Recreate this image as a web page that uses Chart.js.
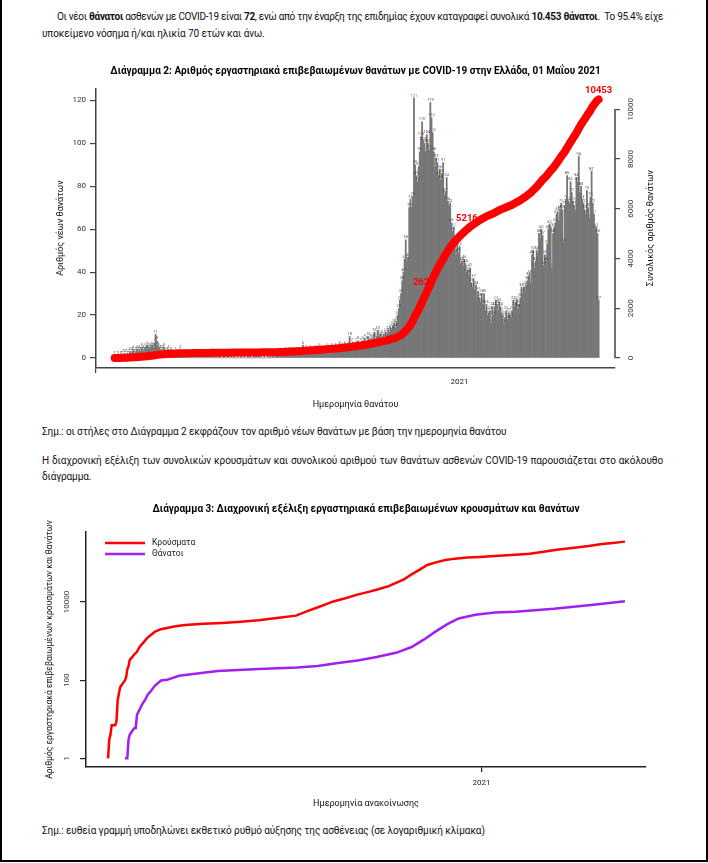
<!DOCTYPE html>
<html>
<head>
<meta charset="utf-8">
<script src="https://cdn.jsdelivr.net/npm/chart.js@4.4.1/dist/chart.umd.min.js"></script>
<style>
  body { margin: 0; background: #fff; width: 708px; height: 863px; overflow: hidden; position: relative;
         font-family: Roboto, "Noto Sans", sans-serif; color: #111; }
  .frame { position: absolute; left: 0; top: -5px; width: 708px; height: 867px; box-sizing: border-box; border: 2px solid #000; }
  .t { position: absolute; font-size: 10px; letter-spacing: -0.1px; line-height: 14px; white-space: nowrap; }
  .j { text-align: justify; text-align-last: justify; }
  .t b { font-weight: 700; }
  canvas { position: absolute; left: 0; }
</style>
</head>
<body>
<div class="frame"></div>

<div class="t j" style="left:57px; top:10px; width:606px;">Οι νέοι <b>θάνατοι</b> ασθενών με COVID-19 είναι <b>72</b>, ενώ από την έναρξη της επιδημίας έχουν καταγραφεί συνολικά <b>10.453 θάνατοι</b>.&nbsp; Το 95.4% είχε</div>
<div class="t" style="left:42px; top:27px;">υποκείμενο νόσημα ή/και ηλικία 70 ετών και άνω.</div>

<canvas id="deathsChart" width="708" height="370" style="top:50px;"></canvas>

<div class="t" style="left:42px; top:425px;">Σημ.: οι στήλες στο Διάγραμμα 2 εκφράζουν τον αριθμό νέων θανάτων με βάση την ημερομηνία θανάτου</div>
<div class="t j" style="left:42px; top:454px; width:621px;">Η διαχρονική εξέλιξη των συνολικών κρουσμάτων και συνολικού αριθμού των θανάτων ασθενών COVID-19 παρουσιάζεται στο ακόλουθο</div>
<div class="t" style="left:42px; top:470px;">διάγραμμα.</div>

<canvas id="logChart" width="708" height="330" style="top:490px;"></canvas>

<div class="t" style="left:42px; top:824px;">Σημ.: ευθεία γραμμή υποδηλώνει εκθετικό ρυθμό αύξησης της ασθένειας (σε λογαριθμική κλίμακα)</div>

<script>
// στοίχιση: οι πλήρεις γραμμές μαζεύονται αν δεν χωράνε και μετά απλώνονται
document.querySelectorAll('.j').forEach(function (el) {
  var target = el.clientWidth;
  el.style.width = 'max-content';
  var natural = el.offsetWidth;
  el.style.width = target + 'px';
  if (natural > target) {
    el.style.letterSpacing = ((target - natural) / el.textContent.length - 0.1 - 0.03) + 'px';
  }
  el.style.whiteSpace = 'normal';
});

var FONT = 'Roboto, "Noto Sans", sans-serif';
Chart.defaults.font.family = FONT;
Chart.defaults.color = '#222';
Chart.defaults.animation = false;

// ---- Διάγραμμα 2 : νέοι θάνατοι ανά ημέρα (ημερομηνία θανάτου) ----
var deathsTitle = 'Διάγραμμα 2: Αριθμός εργαστηριακά επιβεβαιωμένων θανάτων με COVID-19 στην Ελλάδα, 01 Μαΐου 2021';
var firstDeathDay = '2020-03-12';
var dailyDeaths = [
  1,0,1,1,0,1,1,2,1,2,  2,1,2,3,2,3,4,2,3,4,  3,4,3,5,4,3,5,4,6,5,  4,5,6,5,7,11,8,6,5,4,
  3,4,5,3,2,3,4,2,3,2,  2,1,3,2,1,2,4,1,2,1,  1,2,0,1,2,0,1,1,0,1,  0,1,1,0,1,2,0,1,0,1,
  1,0,1,2,0,1,0,1,0,1,  1,0,0,1,1,0,0,1,0,0,  1,0,1,0,0,1,0,0,1,0,  0,1,0,0,1,0,1,0,0,1,
  0,1,0,1,0,1,0,0,1,0,  0,1,0,1,0,2,1,0,1,2,  1,1,2,2,1,2,3,1,2,3,  2,3,2,3,2,2,3,3,2,3,
  2,6,3,2,4,3,2,4,3,2,  3,4,2,4,3,5,3,2,4,3,  4,3,5,4,2,4,5,3,4,5,  4,3,5,6,4,5,4,6,5,4,
  6,10,5,7,6,4,7,6,8,5,  7,6,8,7,9,6,8,10,7,9,  8,9,12,9,10,13,10,11,9,10,  11,9,12,11,13,12,14,13,15,16,
  14,17,20,23,27,30,36,40,46,55,  45,47,70,74,70,75,121,90,85,82,  89,96,103,110,101,100,96,104,100,97,
  119,112,105,96,89,93,91,85,88,83,  86,91,76,77,84,73,71,72,63,59,  61,54,48,55,49,52,44,45,43,46,
  44,40,41,39,42,35,33,37,32,34,  29,31,28,26,30,25,30,22,25,20,  21,22,16,24,20,24,27,25,22,26,
  24,21,20,16,19,22,18,21,20,19,  22,27,24,26,27,23,25,28,33,30,  33,31,34,36,38,39,35,48,50,42,
  45,50,49,58,56,60,57,43,48,45,  53,60,62,61,42,58,61,63,67,68,  64,69,72,69,54,71,74,85,73,72,
  82,77,73,71,69,84,82,94,77,80,  74,72,69,67,78,70,65,75,87,72,  67,60,61,58,27
];
var dailyTicks = [0, 20, 40, 60, 80, 100, 120];
var totalTicks = [0, 2000, 4000, 6000, 8000, 10000];
var yearTickDates = ['2021-01-01'];
var yearTickLabels = ['2021'];
var markerDates = ['2020-12-04', '2021-01-09', '2021-04-30'];
var markerLabels = ['2626', '5216', '10453'];

// ---- Διάγραμμα 3 : σωρευτικά κρούσματα / θάνατοι (ημερομηνία ανακοίνωσης) ----
var logTitle = 'Διάγραμμα 3: Διαχρονική εξέλιξη εργαστηριακά επιβεβαιωμένων κρουσμάτων και θανάτων';
var firstCaseDay = '2020-02-26';
var caseDates = ['2020-02-26','2020-02-27','2020-02-28','2020-02-29','2020-03-03','2020-03-04','2020-03-05','2020-03-06',
  '2020-03-07','2020-03-08','2020-03-10','2020-03-11','2020-03-12','2020-03-13','2020-03-14','2020-03-15','2020-03-17',
  '2020-03-19','2020-03-21','2020-03-23','2020-03-25','2020-03-27','2020-03-29','2020-03-31','2020-04-05','2020-04-10',
  '2020-04-15','2020-04-22','2020-04-30','2020-05-15','2020-05-31','2020-06-15','2020-06-30','2020-07-15','2020-07-31',
  '2020-08-10','2020-08-20','2020-08-31','2020-09-10','2020-09-20','2020-09-30','2020-10-08','2020-10-16','2020-10-22',
  '2020-10-29','2020-11-04','2020-11-11','2020-11-17','2020-11-24','2020-12-02','2020-12-10','2020-12-20','2020-12-31',
  '2021-01-12','2021-01-29','2021-02-10','2021-02-20','2021-03-06','2021-03-19','2021-03-31','2021-04-11','2021-04-20','2021-04-30'];
var caseCounts = [1,3,4,7,7,9,31,45,
  66,73,89,99,117,190,228,331,387,
  464,530,695,821,966,1156,1314,1735,2011,
  2170,2401,2591,2770,2917,3121,3390,3876,4477,
  5942,7684,10317,12452,15400,18400,21400,25500,30800,
  38500,51000,68500,88500,103000,118000,128500,137000,142500,
  150000,161000,172000,190000,220000,243000,270000,305000,325000,350000];
var deathDates = ['2020-03-11','2020-03-13','2020-03-14','2020-03-15','2020-03-17','2020-03-19','2020-03-20','2020-03-21',
  '2020-03-22','2020-03-24','2020-03-26','2020-03-28','2020-03-30','2020-04-01','2020-04-05','2020-04-10','2020-04-15',
  '2020-04-25','2020-05-10','2020-05-27','2020-06-30','2020-08-01','2020-08-18','2020-09-04','2020-09-20','2020-10-06',
  '2020-10-22','2020-11-04','2020-11-14','2020-11-24','2020-12-04','2020-12-13','2020-12-27','2021-01-12','2021-01-29',
  '2021-03-02','2021-04-04','2021-04-30'];
var deathCounts = [1,1,3,4,5,6,6,13,
  15,20,26,32,43,50,73,98,102,
  130,148,172,192,210,231,276,318,392,
  500,705,1086,1770,2750,3800,4700,5350,5650,
  6700,8500,10453];
var logTicks = [1, 100, 10000];
var seriesNames = ['Κρούσματα', 'Θάνατοι'];

function dayIndex(date, origin) {
  return Math.round((Date.parse(date) - Date.parse(origin)) / 86400000);
}

// σωρευτικό άθροισμα των ημερήσιων θανάτων
var barPoints = dailyDeaths.map(function (v, i) { return {x: i, y: v}; });
var running = 0;
var totalPoints = dailyDeaths.map(function (v, i) { running += v; return {x: i, y: running}; });

var tinyColors = ['#444', '#555', '#5b7fc0', '#444', '#a0603a', '#555'];
var markerShift = [-3, -2, 0];

var deathsExtras = {
  id: 'deathsExtras',
  afterDatasetDraw: function (chart, args) {
    if (args.index !== 0) return;
    var ctx = chart.ctx;
    ctx.save();
    // μικρές ετικέτες πάνω από τις στήλες
    ctx.font = '4px ' + FONT;
    ctx.textAlign = 'center';
    ctx.textBaseline = 'bottom';
    args.meta.data.forEach(function (bar, i) {
      if (!dailyDeaths[i]) return;
      ctx.fillStyle = tinyColors[i % tinyColors.length];
      ctx.fillText(String(dailyDeaths[i]), bar.x, bar.y - 0.5);
    });
    // ετικέτες σωρευτικού αριθμού
    var line = chart.getDatasetMeta(1).data;
    ctx.font = 'bold 9.5px ' + FONT;
    ctx.fillStyle = '#ff0000';
    ctx.textBaseline = 'middle';
    markerDates.forEach(function (d, k) {
      var p = line[dayIndex(d, firstDeathDay)];
      ctx.fillText(markerLabels[k], p.x + markerShift[k], p.y - 9);
    });
    ctx.restore();
  },
  afterDraw: function (chart) {
    var ctx = chart.ctx, s = chart.scales.y2, a = chart.chartArea;
    ctx.save();
    ctx.strokeStyle = '#444';
    ctx.lineWidth = 1.5;
    ctx.beginPath();
    ctx.moveTo(s.left, s.getPixelForValue(totalTicks[0]));
    ctx.lineTo(s.left, s.getPixelForValue(totalTicks[totalTicks.length - 1]));
    ctx.stroke();
    ctx.translate(651, (a.top + a.bottom) / 2);
    ctx.rotate(-Math.PI / 2);
    ctx.font = '9px ' + FONT;
    ctx.fillStyle = '#111';
    ctx.textAlign = 'center';
    ctx.textBaseline = 'middle';
    ctx.fillText('Συνολικός αριθμός θανάτων', 0, 0);
    ctx.restore();
  }
};

new Chart(document.getElementById('deathsChart'), {
  type: 'bar',
  data: {
    datasets: [
      {
        type: 'bar',
        data: barPoints,
        yAxisID: 'y',
        backgroundColor: '#777777',
        borderWidth: 0,
        barPercentage: 1,
        categoryPercentage: 1,
        order: 2
      },
      {
        type: 'line',
        data: totalPoints,
        yAxisID: 'y2',
        borderColor: '#ff0000',
        borderWidth: 8,
        borderCapStyle: 'round',
        borderJoinStyle: 'round',
        pointRadius: 0,
        tension: 0,
        order: 1
      }
    ]
  },
  options: {
    responsive: false,
    animation: false,
    events: [],
    layout: { padding: { left: 48, right: 0, top: 5, bottom: 5 } },
    plugins: {
      legend: { display: false },
      tooltip: { enabled: false },
      title: {
        display: true, text: deathsTitle, fullSize: false, color: '#000',
        font: { size: 10, weight: 'bold' }, padding: { top: 10.3, bottom: 11 }
      }
    },
    scales: {
      x: {
        type: 'linear', min: -16, max: 428, offset: false,
        afterBuildTicks: function (s) { s.ticks = yearTickDates.map(function (d) { return {value: dayIndex(d, firstDeathDay)}; }); },
        afterFit: function (s) { s.height = 47; },
        ticks: { callback: function (v, i) { return yearTickLabels[i]; }, font: { size: 8 }, padding: 4, maxRotation: 0, autoSkip: false },
        grid: { drawOnChartArea: false, tickLength: 5, color: '#444', lineWidth: 1.2 },
        border: { color: '#444', width: 1.5 },
        title: { display: true, text: 'Ημερομηνία θανάτου', color: '#111', font: { size: 9 }, padding: { top: 0, bottom: 4.6 } }
      },
      y: {
        position: 'left', min: -4.65, max: 125.6,
        afterBuildTicks: function (s) { s.ticks = dailyTicks.map(function (v) { return {value: v}; }); },
        afterFit: function (s) { s.width = 48; },
        ticks: { font: { size: 8 }, padding: 4, color: '#333' },
        grid: { drawOnChartArea: false, tickLength: 6, color: '#444', lineWidth: 1.2 },
        border: { color: '#444', width: 1.5 },
        title: { display: true, text: 'Αριθμός νέων θανάτων', color: '#111', font: { size: 9 }, padding: { top: 7, bottom: 0 } }
      },
      y2: {
        position: 'right', min: -402, max: 10843,
        afterBuildTicks: function (s) { s.ticks = totalTicks.map(function (v) { return {value: v}; }); },
        afterFit: function (s) { s.width = 93; },
        ticks: { font: { size: 8 }, padding: 0, minRotation: 90, maxRotation: 90, crossAlign: 'center', color: '#333',
                 callback: function (v) { return String(v); } },
        grid: { drawOnChartArea: false, tickLength: 5, color: '#444', lineWidth: 1.2 },
        border: { display: false }
      }
    }
  },
  plugins: [deathsExtras]
});

// ---- Διάγραμμα 3 ----
var legendPlugin = {
  id: 'logLegend',
  afterDraw: function (chart) {
    var ctx = chart.ctx;
    ctx.save();
    ctx.font = '8.5px ' + FONT;
    ctx.textBaseline = 'middle';
    chart.data.datasets.forEach(function (ds, k) {
      var y = 53 + k * 11;
      ctx.strokeStyle = ds.borderColor;
      ctx.lineWidth = 2.5;
      ctx.beginPath();
      ctx.moveTo(105, y);
      ctx.lineTo(145, y);
      ctx.stroke();
      ctx.fillStyle = '#222';
      ctx.fillText(ds.label, 152, y);
    });
    ctx.restore();
  }
};

new Chart(document.getElementById('logChart'), {
  type: 'line',
  data: {
    datasets: [
      {
        label: seriesNames[0],
        data: caseDates.map(function (d, i) { return {x: dayIndex(d, firstCaseDay), y: caseCounts[i]}; }),
        borderColor: '#ff0000', borderWidth: 2.5, pointRadius: 0, tension: 0
      },
      {
        label: seriesNames[1],
        data: deathDates.map(function (d, i) { return {x: dayIndex(d, firstCaseDay), y: deathCounts[i]}; }),
        borderColor: '#a020f0', borderWidth: 2.5, pointRadius: 0, tension: 0
      }
    ]
  },
  options: {
    responsive: false,
    animation: false,
    events: [],
    layout: { padding: { left: 36, right: 62, top: 4, bottom: 5 } },
    plugins: {
      legend: { display: false },
      tooltip: { enabled: false },
      title: {
        display: true, text: logTitle, fullSize: false, color: '#000',
        font: { size: 10, weight: 'bold' }, padding: { top: 9.3, bottom: 16.7 }
      }
    },
    scales: {
      x: {
        type: 'linear', min: -18.3, max: 446.5,
        afterBuildTicks: function (s) { s.ticks = yearTickDates.map(function (d) { return {value: dayIndex(d, firstCaseDay)}; }); },
        afterFit: function (s) { s.height = 48; },
        ticks: { callback: function (v, i) { return yearTickLabels[i]; }, font: { size: 8 }, padding: 6, maxRotation: 0, autoSkip: false },
        grid: { drawOnChartArea: false, tickLength: 5, color: '#222', lineWidth: 1.2 },
        border: { color: '#222', width: 1.5 },
        title: { display: true, text: 'Ημερομηνία ανακοίνωσης', color: '#111', font: { size: 9 }, padding: { top: 0, bottom: 5.6 } }
      },
      y: {
        type: 'logarithmic', position: 'left', min: 0.625, max: 617000,
        afterBuildTicks: function (s) { s.ticks = logTicks.map(function (v) { return {value: v}; }); },
        afterFit: function (s) { s.width = 50; },
        ticks: { font: { size: 8 }, padding: 2, minRotation: 90, maxRotation: 90, crossAlign: 'center', color: '#333',
                 callback: function (v) { return String(v); } },
        grid: { drawOnChartArea: false, tickLength: 6, color: '#222', lineWidth: 1.2 },
        border: { color: '#222', width: 1.5 },
        title: { display: true, text: 'Αριθμός εργαστηριακά επιβεβαιωμένων κρουσμάτων και θανάτων', color: '#111',
                 font: { size: 8.5 }, padding: { top: 8.3, bottom: 0 } }
      }
    }
  },
  plugins: [legendPlugin]
});
</script>
</body>
</html>
